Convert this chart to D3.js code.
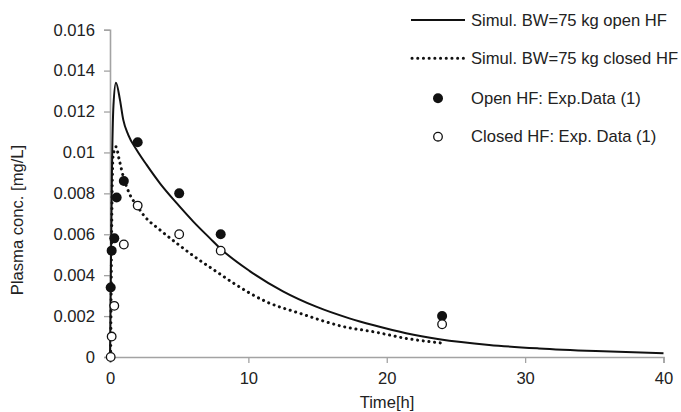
<!DOCTYPE html>
<html>
<head>
<meta charset="utf-8">
<script src="https://cdn.jsdelivr.net/npm/d3@7"></script>
<style>
  body { margin: 0; background: #fff; }
  text { font-family: "Liberation Sans", Arial, sans-serif; fill: #222; }
</style>
</head>
<body>
<div id="chart"></div>
<script>
// -------------------- Data --------------------
const xTicks = [0, 10, 20, 30, 40];
const yTicks = [0, 0.002, 0.004, 0.006, 0.008, 0.01, 0.012, 0.014, 0.016];

// simulated curve, open HF
const openSimT = [0, 0.06, 0.14, 0.25, 0.43, 0.72, 0.96, 1.32, 1.93, 2.65, 3.61, 4.82, 6.02, 7.23, 7.95, 10.1, 12.5, 14.9, 17.3, 19, 21.4, 23.8, 27.4, 31, 35.1, 40];
const openSimC = [0, 0.004, 0.009, 0.0123, 0.01341, 0.01257, 0.01159, 0.01086, 0.01012, 0.00939, 0.00849, 0.00752, 0.00662, 0.0058, 0.00532, 0.0042, 0.00321, 0.00246, 0.00189, 0.00156, 0.00116, 0.00087, 0.00059, 0.00042, 0.00029, 0.00018];

// simulated curve, closed HF
const closedSimT = [0.05, 0.12, 0.22, 0.43, 0.67, 0.96, 1.45, 2.0, 2.41, 3.61, 4.82, 6.26, 7.7, 8.9, 11.3, 13.7, 17.1, 19, 21.4, 24];
const closedSimC = [0, 0.006, 0.0098, 0.01028, 0.00963, 0.00882, 0.00792, 0.00735, 0.00695, 0.00621, 0.00556, 0.00483, 0.00417, 0.00362, 0.0027, 0.00214, 0.00145, 0.00124, 0.00091, 0.00068];

// experimental data
const openExpT = [0.05, 0.12, 0.31, 0.48, 1, 2, 5, 8, 24];
const openExpC = [0.0034, 0.0052, 0.0058, 0.0078, 0.0086, 0.0105, 0.008, 0.006, 0.002];
const closedExpT = [0.05, 0.12, 0.31, 1, 2, 5, 8, 24];
const closedExpC = [0, 0.001, 0.0025, 0.0055, 0.0074, 0.006, 0.0052, 0.0016];

const legendLabels = [
  "Simul. BW=75 kg open HF",
  "Simul. BW=75 kg closed HF",
  "Open HF: Exp.Data (1)",
  "Closed HF: Exp. Data (1)"
];

// -------------------- SVG --------------------
const width = 681, height = 412;

const svg = d3.select("#chart").append("svg")
  .attr("width", width)
  .attr("height", height);

// pick a font size so the first legend entry is ~196px wide, as in the original
const probe = svg.append("text").style("font-size", "16px").text(legendLabels[0]);
const probeW = probe.node().getComputedTextLength();
probe.remove();
const fontSize = (16 * 196 / probeW).toFixed(2) + "px";

const x = d3.scaleLinear().domain([0, 40]).range([110, 663.5]);
const y = d3.scaleLinear().domain([0, 0.016]).range([357, 29.7]);

const axisColor = "#a3a3a3";

// -------------------- Axes --------------------
const xAxis = svg.append("g")
  .attr("transform", `translate(0,${y(0)})`)
  .call(d3.axisBottom(x).tickValues(xTicks).tickSize(6).tickPadding(9).tickFormat(d3.format("d")));
const yAxis = svg.append("g")
  .attr("transform", `translate(${x(0)},0)`)
  .call(d3.axisLeft(y).tickValues(yTicks).tickSize(6).tickPadding(9).tickFormat(d => d === 0 ? "0" : String(+d.toFixed(3))));

[xAxis, yAxis].forEach(g => {
  g.select(".domain").attr("stroke", axisColor).attr("stroke-width", 1.6);
  g.selectAll(".tick line").attr("stroke", axisColor).attr("stroke-width", 1.3);
  g.selectAll(".tick text")
    .style("font-family", '"Liberation Sans", Arial, sans-serif')
    .style("font-size", fontSize)
    .attr("fill", "#222");
});

svg.append("text")
  .attr("x", 387).attr("y", 408)
  .attr("text-anchor", "middle")
  .style("font-size", fontSize)
  .text("Time[h]");

svg.append("text")
  .attr("transform", "translate(23,220) rotate(-90)")
  .attr("text-anchor", "middle")
  .style("font-size", fontSize)
  .text("Plasma conc. [mg/L]");

// -------------------- Curves --------------------
const line = d3.line()
  .x(d => x(d[0]))
  .y(d => y(d[1]))
  .curve(d3.curveMonotoneX);

svg.append("path")
  .datum(d3.zip(openSimT, openSimC))
  .attr("fill", "none")
  .attr("stroke", "#111")
  .attr("stroke-width", 2)
  .attr("d", line);

svg.append("path")
  .datum(d3.zip(closedSimT, closedSimC))
  .attr("fill", "none")
  .attr("stroke", "#111")
  .attr("stroke-width", 3)
  .attr("stroke-linecap", "round")
  .attr("stroke-dasharray", "0.1 5.6")
  .attr("d", line);

// -------------------- Points --------------------
svg.append("g")
  .selectAll("circle")
  .data(d3.zip(openExpT, openExpC))
  .join("circle")
  .attr("cx", d => x(d[0]))
  .attr("cy", d => y(d[1]))
  .attr("r", 5)
  .attr("fill", "#111");

svg.append("g")
  .selectAll("circle")
  .data(d3.zip(closedExpT, closedExpC))
  .join("circle")
  .attr("cx", d => x(d[0]))
  .attr("cy", d => y(d[1]))
  .attr("r", 4.3)
  .attr("fill", "#fff")
  .attr("stroke", "#111")
  .attr("stroke-width", 1.3);

// -------------------- Legend --------------------
const legend = svg.append("g");
const rowY = [20, 58.3, 98.3, 136.7];
const lx0 = 411, lx1 = 465, tx = 471;

legendLabels.forEach((t, i) => {
  const row = legend.append("g").attr("transform", `translate(0,${rowY[i]})`);
  if (i === 0) {
    row.append("line").attr("x1", lx0).attr("x2", lx1)
      .attr("stroke", "#111").attr("stroke-width", 2);
  } else if (i === 1) {
    row.append("line").attr("x1", lx0 + 1).attr("x2", lx1)
      .attr("stroke", "#111").attr("stroke-width", 3)
      .attr("stroke-linecap", "round").attr("stroke-dasharray", "0.1 5.6");
  } else if (i === 2) {
    row.append("circle").attr("cx", 438).attr("r", 5).attr("fill", "#111");
  } else {
    row.append("circle").attr("cx", 438).attr("r", 4.3)
      .attr("fill", "#fff").attr("stroke", "#111").attr("stroke-width", 1.3);
  }
  row.append("text")
    .attr("x", tx).attr("y", 5.5)
    .style("font-size", fontSize)
    .text(t);
});
</script>
</body>
</html>
